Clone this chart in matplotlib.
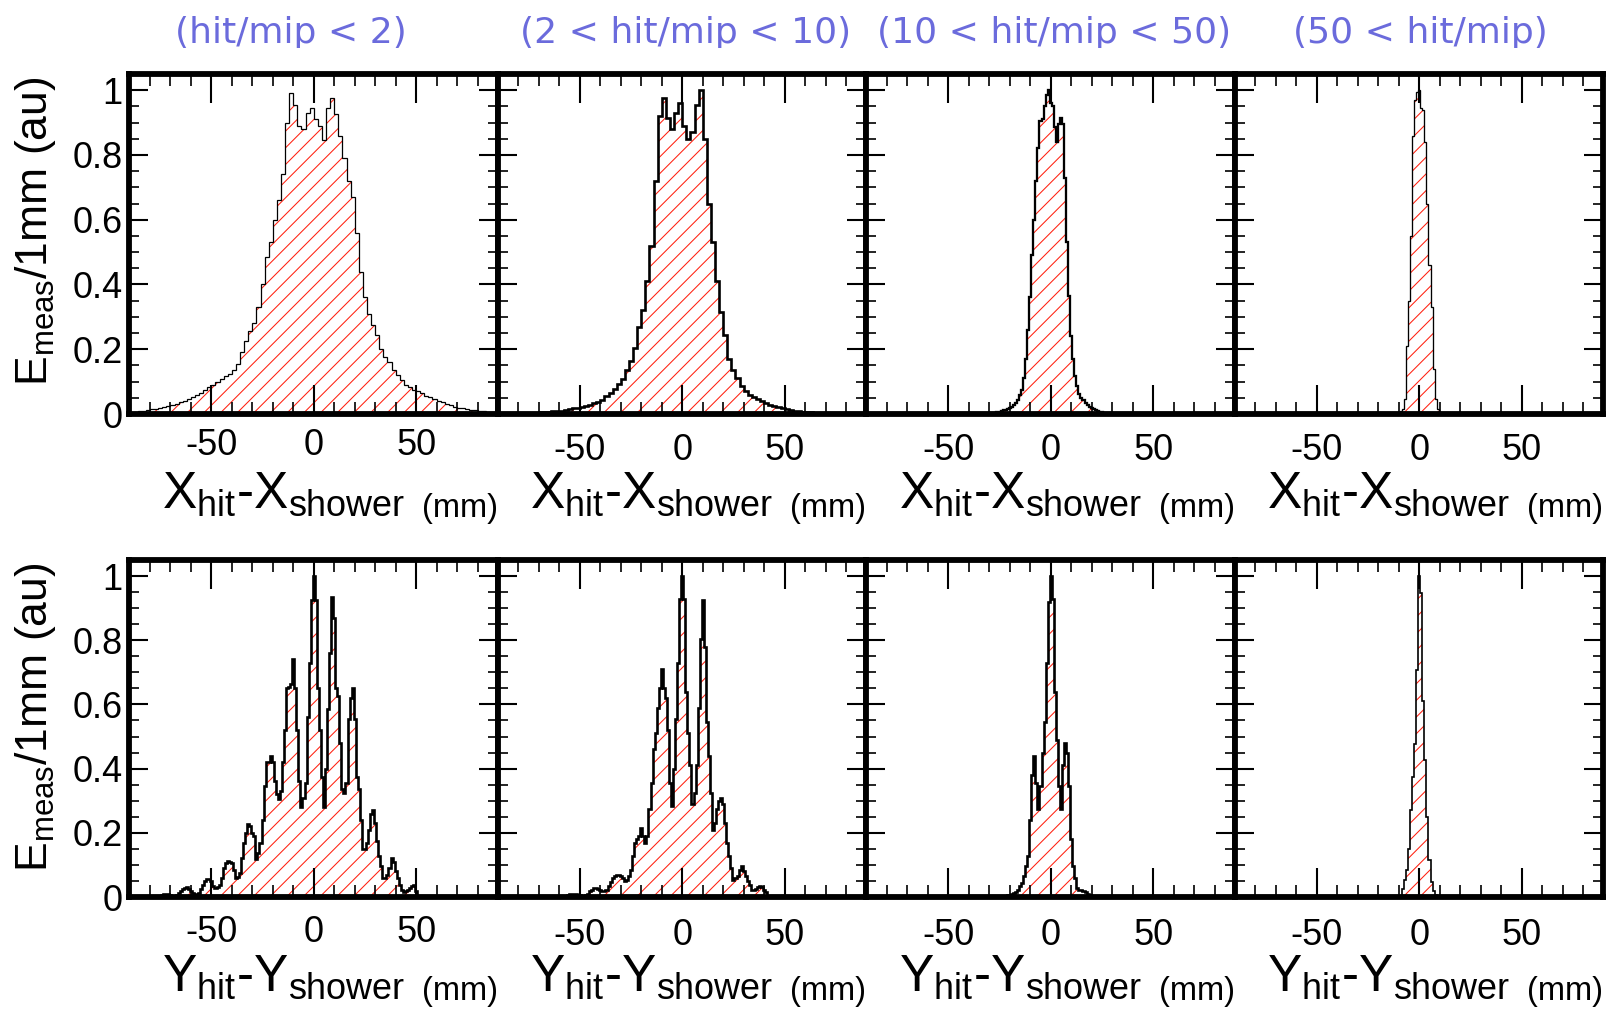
"""
Lateral hit profiles around the shower axis, split by hit energy (hit/mip).
Top row: X_hit - X_shower, bottom row: Y_hit - Y_shower.
"""
import numpy as np
import matplotlib
matplotlib.use("Agg")
import matplotlib.pyplot as plt
from matplotlib.ticker import MultipleLocator, FixedLocator, FuncFormatter
from matplotlib.transforms import Bbox, TransformedBbox

plt.rcParams.update({
    "font.family": "Liberation Sans",
    "mathtext.fontset": "custom",
    "mathtext.rm": "Liberation Sans",
    "mathtext.it": "Liberation Sans:italic",
    "mathtext.bf": "Liberation Sans:bold",
    "axes.unicode_minus": False,
    "hatch.linewidth": 0.75,
})

W, H = 1608, 1013  # output size in pixels (dpi 100)

# ─── Labels ──────────────────────────────────────────────────────────────────
titles = ["(hit/mip < 2)", "(2 < hit/mip < 10)", "(10 < hit/mip < 50)", "(50 < hit/mip)"]
title_x = [291, 686, 1054, 1420]
x_ticks = [-50, 0, 50]
y_ticks = [0, 0.2, 0.4, 0.6, 0.8, 1.0]
xlabel_main = [r"$\mathrm{X_{hit}}$-$\mathrm{X_{shower}}$",
               r"$\mathrm{Y_{hit}}$-$\mathrm{Y_{shower}}$"]
xlabel_unit = "(mm)"
ylabel = r"$\mathrm{E_{meas}}$/1mm (au)"

# ─── Histograms: (first bin centre [mm], bin width [mm], contents) ───────────
x_lt2_c0, x_lt2_w = -89, 2
x_lt2 = [0.004, 0.006, 0.008, 0.010, 0.012, 0.014, 0.016, 0.019, 0.021, 0.024,
         0.027, 0.031, 0.036, 0.041, 0.046, 0.051, 0.058, 0.066, 0.075, 0.083,
         0.090, 0.100, 0.107, 0.116, 0.125, 0.137, 0.155, 0.190, 0.225, 0.255,
         0.280, 0.330, 0.400, 0.485, 0.530, 0.600, 0.660, 0.740, 0.900, 0.990,
         0.955, 0.890, 0.880, 0.930, 0.945, 0.910, 0.890, 0.845, 0.945, 0.975,
         0.925, 0.860, 0.790, 0.720, 0.670, 0.560, 0.440, 0.360, 0.310, 0.275,
         0.245, 0.200, 0.175, 0.160, 0.135, 0.120, 0.105, 0.090, 0.082, 0.075,
         0.070, 0.064, 0.057, 0.051, 0.046, 0.041, 0.037, 0.032, 0.027, 0.023,
         0.020, 0.017, 0.015, 0.013, 0.011, 0.010, 0.009, 0.007, 0.006, 0.005]

x_2_10_c0, x_2_10_w = -89, 2
x_2_10 = [0.001, 0.001, 0.002, 0.002, 0.002, 0.003, 0.003, 0.003, 0.004, 0.004,
          0.005, 0.006, 0.007, 0.008, 0.009, 0.010, 0.012, 0.014, 0.017, 0.020,
          0.022, 0.025, 0.029, 0.033, 0.038, 0.044, 0.055, 0.066, 0.078, 0.093,
          0.108, 0.137, 0.165, 0.205, 0.270, 0.320, 0.410, 0.520, 0.720, 0.920,
          0.975, 0.915, 0.880, 0.930, 0.960, 0.890, 0.850, 0.870, 0.955, 1.000,
          0.850, 0.650, 0.530, 0.410, 0.315, 0.245, 0.170, 0.135, 0.110, 0.088,
          0.072, 0.060, 0.052, 0.045, 0.040, 0.034, 0.029, 0.025, 0.022, 0.019,
          0.015, 0.012, 0.010, 0.008, 0.007, 0.006, 0.005, 0.004, 0.004, 0.003,
          0.002, 0.002, 0.002, 0.001, 0.001, 0.001, 0.001, 0.001, 0.001, 0.001]

x_10_50_c0, x_10_50_w = -30, 1
x_10_50 = [0.001, 0.002, 0.002, 0.003, 0.005, 0.007, 0.009, 0.011, 0.013, 0.016,
           0.019, 0.022, 0.027, 0.034, 0.044, 0.058, 0.075, 0.110, 0.170, 0.260,
           0.360, 0.490, 0.600, 0.720, 0.820, 0.905, 0.910, 0.950, 0.985, 1.000,
           0.960, 0.950, 0.885, 0.840, 0.895, 0.915, 0.895, 0.730, 0.530, 0.365,
           0.240, 0.170, 0.116, 0.085, 0.062, 0.050, 0.042, 0.035, 0.028, 0.023,
           0.019, 0.016, 0.012, 0.009, 0.007, 0.005, 0.004, 0.003, 0.002, 0.002,
           0.001]

x_gt50_c0, x_gt50_w = -12, 1
x_gt50 = [0.001, 0.002, 0.004, 0.008, 0.014, 0.045, 0.210, 0.350, 0.550, 0.860,
          0.970, 0.995, 1.000, 0.945, 0.940, 0.840, 0.650, 0.460, 0.330, 0.140,
          0.045, 0.014, 0.006, 0.003, 0.001]

y_lt2_c0, y_lt2_w = -80, 1
y_lt2 = [0.001, 0.001, 0.002, 0.002, 0.003, 0.004, 0.006, 0.008, 0.009, 0.008,
         0.005, 0.003, 0.003, 0.006, 0.012, 0.018, 0.024, 0.028, 0.030, 0.025,
         0.020, 0.012, 0.008, 0.008, 0.012, 0.025, 0.038, 0.050, 0.056, 0.055,
         0.049, 0.035, 0.028, 0.030, 0.038, 0.060, 0.090, 0.105, 0.111, 0.110,
         0.106, 0.085, 0.059, 0.062, 0.075, 0.120, 0.169, 0.200, 0.226, 0.220,
         0.200, 0.190, 0.117, 0.138, 0.169, 0.240, 0.346, 0.420, 0.420, 0.440,
         0.420, 0.360, 0.320, 0.305, 0.330, 0.420, 0.520, 0.650, 0.655, 0.665,
         0.740, 0.650, 0.520, 0.360, 0.280, 0.310, 0.355, 0.560, 0.730, 0.925,
         1.000, 0.925, 0.650, 0.520, 0.375, 0.280, 0.400, 0.585, 0.760, 0.935,
         0.870, 0.650, 0.625, 0.480, 0.335, 0.325, 0.355, 0.555, 0.620, 0.650,
         0.555, 0.375, 0.335, 0.240, 0.148, 0.148, 0.169, 0.210, 0.260, 0.270,
         0.230, 0.174, 0.127, 0.096, 0.059, 0.059, 0.070, 0.090, 0.120, 0.110,
         0.080, 0.059, 0.038, 0.023, 0.015, 0.018, 0.023, 0.028, 0.033, 0.038,
         0.018, 0.004, 0.002, 0.002, 0.002, 0.001, 0.001, 0.001, 0.001, 0.001,
         0.001]

y_2_10_c0, y_2_10_w = -60, 1
y_2_10 = [0.001, 0.002, 0.003, 0.003, 0.005, 0.008, 0.010, 0.010, 0.009, 0.007,
          0.006, 0.004, 0.004, 0.005, 0.010, 0.018, 0.023, 0.027, 0.028, 0.025,
          0.023, 0.020, 0.018, 0.022, 0.033, 0.048, 0.059, 0.066, 0.070, 0.068,
          0.065, 0.058, 0.049, 0.052, 0.065, 0.085, 0.127, 0.169, 0.180, 0.190,
          0.215, 0.190, 0.169, 0.190, 0.273, 0.356, 0.460, 0.510, 0.590, 0.650,
          0.710, 0.650, 0.620, 0.520, 0.356, 0.283, 0.400, 0.555, 0.730, 0.930,
          1.000, 0.930, 0.640, 0.510, 0.410, 0.290, 0.325, 0.410, 0.590, 0.805,
          0.925, 0.780, 0.545, 0.440, 0.325, 0.210, 0.230, 0.273, 0.300, 0.310,
          0.290, 0.230, 0.169, 0.127, 0.090, 0.054, 0.059, 0.065, 0.085, 0.096,
          0.080, 0.065, 0.049, 0.038, 0.023, 0.021, 0.025, 0.031, 0.033, 0.031,
          0.023, 0.015, 0.004, 0.002, 0.002, 0.002, 0.003, 0.004, 0.004, 0.003,
          0.002, 0.001, 0.001]

y_10_50_c0, y_10_50_w = -25, 1
y_10_50 = [0.001, 0.001, 0.002, 0.004, 0.005, 0.007, 0.009, 0.012, 0.016, 0.023,
           0.033, 0.044, 0.065, 0.096, 0.127, 0.240, 0.380, 0.440, 0.356, 0.273,
           0.346, 0.450, 0.545, 0.730, 0.920, 1.000, 0.930, 0.640, 0.490, 0.346,
           0.273, 0.410, 0.480, 0.450, 0.346, 0.180, 0.096, 0.059, 0.028, 0.023,
           0.021, 0.018, 0.015, 0.010, 0.007, 0.004, 0.003, 0.002, 0.001, 0.001,
           0.000]

y_gt50_c0, y_gt50_w = -9, 1
y_gt50 = [0.003, 0.026, 0.052, 0.083, 0.150, 0.270, 0.374, 0.478, 0.707, 1.000,
          0.946, 0.610, 0.426, 0.250, 0.114, 0.047, 0.020, 0.005, 0.001]

rows = [
    [(x_lt2_c0, x_lt2_w, x_lt2), (x_2_10_c0, x_2_10_w, x_2_10),
     (x_10_50_c0, x_10_50_w, x_10_50), (x_gt50_c0, x_gt50_w, x_gt50)],
    [(y_lt2_c0, y_lt2_w, y_lt2), (y_2_10_c0, y_2_10_w, y_2_10),
     (y_10_50_c0, y_10_50_w, y_10_50), (y_gt50_c0, y_gt50_w, y_gt50)],
]

# ─── Style ───────────────────────────────────────────────────────────────────
HATCH_RED = "#ff2010"
TITLE_BLUE = "#6b6bdc"
outline_lw = [[0.9, 1.9, 1.65, 0.95], [1.9, 1.9, 1.9, 1.2]]
xtick_pad = [[10, 13.5, 13.5, 13.5], [13, 15, 15, 15]]

# axes geometry in pixels (spine centres)
col_left, col_w = 129.5, 368.5
row_bottom = [414, 897]
row_top = [74, 560]
ylabel_top = [77, 563]

fig = plt.figure(figsize=(W / 100, H / 100), dpi=100)

for r, row in enumerate(rows):
    for c, (c0, w, vals) in enumerate(row):
        left = (col_left + c * col_w) / W
        bottom = 1 - row_bottom[r] / H
        height = (row_bottom[r] - row_top[r]) / H
        ax = fig.add_axes([left, bottom, col_w / W, height])

        edges = (c0 - w / 2) + w * np.arange(len(vals) + 1)
        ax.stairs(vals, edges, fill=True, facecolor="none", edgecolor=HATCH_RED,
                  hatch="//", linewidth=0, baseline=0)
        ax.stairs(vals, edges, color="black", linewidth=outline_lw[r][c], baseline=None)

        ax.set_xlim(-90, 90)
        ax.set_ylim(0, 1.05)
        ax.xaxis.set_major_locator(FixedLocator(x_ticks))
        ax.xaxis.set_minor_locator(MultipleLocator(10))
        ax.yaxis.set_major_locator(FixedLocator(y_ticks))
        ax.yaxis.set_minor_locator(MultipleLocator(0.05))
        ax.yaxis.set_major_formatter(FuncFormatter(lambda v, p: f"{v:g}"))

        ax.tick_params(axis="both", which="both", direction="in",
                       top=True, right=True, colors="black")
        ax.tick_params(axis="x", which="major", length=21, width=1.5,
                       labelsize=26, pad=xtick_pad[r][c])
        ax.tick_params(axis="x", which="minor", length=8.5, width=1.2)
        ax.tick_params(axis="y", which="major", length=13.5, width=1.5,
                       labelsize=26, pad=5)
        ax.tick_params(axis="y", which="minor", length=7, width=1.2)
        if c > 0:
            ax.tick_params(axis="y", labelleft=False)
        for sp in ax.spines.values():
            sp.set_linewidth(4.2)
            sp.set_zorder(5)

        # axis title, right-aligned at the end of the axis (ROOT style)
        ax.annotate(xlabel_main[r], xy=(1, 0), xycoords="axes fraction",
                    xytext=(-93, -94), textcoords="offset pixels",
                    ha="right", va="baseline", fontsize=37)
        ax.annotate(xlabel_unit, xy=(1, 0), xycoords="axes fraction",
                    xytext=(0, -103), textcoords="offset pixels",
                    ha="right", va="baseline", fontsize=23.5)

    fig.text(47 / W, 1 - ylabel_top[r] / H, ylabel, rotation=90,
             rotation_mode="anchor", ha="right", va="baseline", fontsize=32)

# bin-range titles, cut off at the bottom like in the original slide
clip = TransformedBbox(Bbox([[0, 1 - 48 / H], [1, 1]]), fig.transFigure)
for t, xc in zip(titles, title_x):
    txt = fig.text(xc / W, 1 - 43 / H, t, ha="center", va="baseline",
                   fontsize=26, color=TITLE_BLUE, family="DejaVu Sans")
    txt.set_clip_box(clip)
    txt.set_clip_on(True)

fig.savefig("out.png", dpi=100)
